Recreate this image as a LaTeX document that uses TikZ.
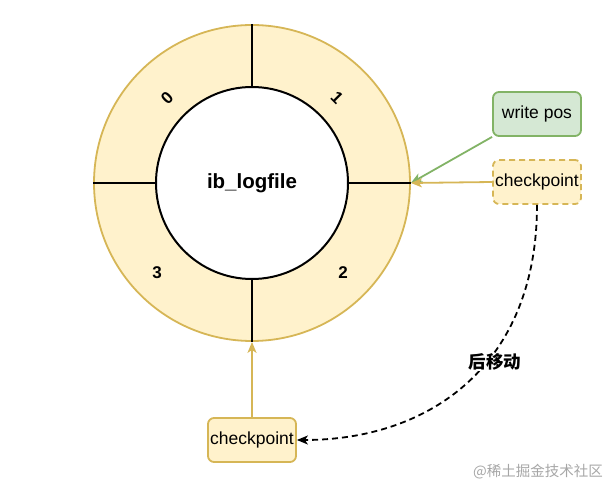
\documentclass[tikz,border=0pt]{standalone}
\usepackage{fontspec}
\setmainfont{Liberation Sans}
\newfontfamily\cjk{Noto Sans CJK SC}
\usepackage{tikz}
\usetikzlibrary{calc,arrows.meta}
\definecolor{ringfill}{HTML}{FFF2CC}
\definecolor{ringdraw}{HTML}{D6B656}
\definecolor{posfill}{HTML}{D5E8D4}
\definecolor{posdraw}{HTML}{82B366}
\begin{document}
\begin{tikzpicture}[x=1pt,y=-1pt]
                      \tikzstyle{box}=[rounded corners=6pt,line width=1.8pt,minimum width=88pt,minimum height=44pt,inner sep=0pt,font=\fontsize{17.5}{19}\selectfont]
                      \tikzstyle{num}=[font=\fontsize{17}{19}\selectfont\bfseries]
                      \tikzstyle{link}=[-{Stealth[length=11pt,width=9pt,inset=3pt]},line width=1.8pt]
                      \useasboundingbox (0,0) rectangle (611,494);
                      \node[circle,draw=ringdraw,fill=ringfill,line width=1.8pt,minimum size=316pt,inner sep=0pt] (ring) at (252,183) {};
                      \node[circle,draw=black,fill=white,line width=2pt,minimum size=192pt,inner sep=0pt,font=\fontsize{20.5}{23}\selectfont\bfseries] (log) at (252,183) {ib\_logfile};
                      \draw[line width=2pt] (ring.north) -- (log.north);
                      \draw[line width=2pt] (ring.south) -- (log.south);
                      \draw[line width=2pt] (ring.west) -- (log.west);
                      \draw[line width=2pt] (ring.east) -- (log.east);
                      \node[num,rotate=45] (n0) at (167,98) {0};
                      \node[num,rotate=-45] (n1) at (337,98) {1};
                      \node[num] (n2) at (343,273) {2};
                      \node[num] (n3) at (157,273) {3};
                      \node[box,draw=posdraw,fill=posfill] (wp) at (537,114) {write pos};
                      \node[box,draw=ringdraw,fill=ringfill,dash pattern=on 6pt off 4pt] (cp) at (537,182) {checkpoint};
                      \node[box,draw=ringdraw,fill=ringfill] (cpold) at (252,440) {checkpoint};
                      \draw[link,posdraw] (wp.south west) -- (ring.east);
                      \draw[link,ringdraw] (cp.west) -- (ring.east);
                      \draw[link,ringdraw] (cpold.north) -- (ring.south);
                      \draw[link,dash pattern=on 6pt off 4pt] (cp.south) .. controls (537,365) and (430,440) .. (cpold.east);
                      \node[fill=white,inner sep=1pt,font=\cjk\fontsize{17.5}{19}\selectfont\bfseries] (move) at (495,362) {后移动};
                      \node[text=black!35,font=\cjk\fontsize{14.5}{16}\selectfont] (mark) at (538,472) {@稀土掘金技术社区};
                  \end{tikzpicture}
\end{document}
